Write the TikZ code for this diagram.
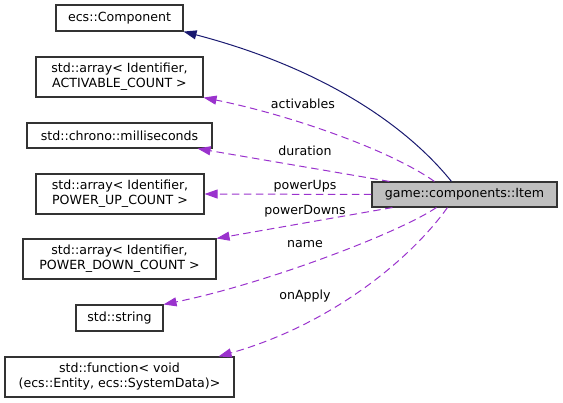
\documentclass[tikz,border=0pt]{standalone}
\usepackage{fontspec}
\setmainfont{DejaVu Sans}
\usetikzlibrary{arrows.meta}
\definecolor{edgepurple}{HTML}{9A32CD}
\definecolor{edgeblue}{HTML}{191970}
\definecolor{itemfill}{HTML}{BFBFBF}
\begin{document}
\begin{tikzpicture}[x=1pt,y=-1pt,
  txt/.style={font=\fontsize{12.6}{15}\selectfont},
  cls/.style={txt, draw=black!80, line width=1.1pt, fill=white, inner sep=0pt, align=center},
  dep/.style={draw=edgepurple, dash pattern=on 7.5pt off 4.5pt, line width=1pt, -{Triangle[length=13pt,width=9pt]}},
  inh/.style={draw=edgeblue, line width=1pt, -{Triangle[length=13pt,width=9pt]}},
  lbl/.style={txt, inner sep=0pt}]
\useasboundingbox (0,0) rectangle (563,403);
\node[cls, minimum width=127pt, minimum height=26pt] (comp) at (119.5,18) {ecs::Component};
\node[cls, minimum width=167pt, minimum height=40pt] (act) at (119.5,77) {std::array< Identifier,\\ ACTIVABLE\_COUNT >};
\node[cls, minimum width=185pt, minimum height=25pt] (ms) at (119.5,135.5) {std::chrono::milliseconds};
\node[cls, minimum width=168pt, minimum height=40pt] (pup) at (120,194) {std::array< Identifier,\\ POWER\_UP\_COUNT >};
\node[cls, minimum width=193pt, minimum height=40pt] (pdown) at (119.5,259) {std::array< Identifier,\\ POWER\_DOWN\_COUNT >};
\node[cls, minimum width=87pt, minimum height=26pt] (str) at (119.5,318) {std::string};
\node[cls, minimum width=229pt, minimum height=40pt] (fn) at (119.5,377) {std::function< void\\(ecs::Entity, ecs::SystemData)>};
\node[cls, fill=itemfill, minimum width=185pt, minimum height=25pt] (item) at (464.5,194.5) {game::components::Item};

\draw[inh] ([xshift=80pt]item.north west) .. controls (410,130) and (330,70) .. (comp.south east);
\draw[dep] ([xshift=63pt]item.north west) .. controls (390,150) and (290,115) .. (act.south east);
\draw[dep] ([xshift=18pt]item.north west) -- ([xshift=-15pt]ms.south east);
\draw[dep] (item.west) -- (pup.east);
\draw[dep] ([xshift=21pt]item.south west) -- (pdown.north east);
\draw[dep] ([xshift=65pt]item.south west) .. controls (395,235) and (260,285) .. (str.north east);
\draw[dep] ([xshift=76pt]item.south west) .. controls (410,260) and (330,325) .. ([xshift=-16pt]fn.north east);

\node[lbl] (l1) at (303,104) {activables};
\node[lbl] (l2) at (305,151) {duration};
\node[lbl] (l3) at (305,186) {powerUps};
\node[lbl] (l4) at (305,211) {powerDowns};
\node[lbl] (l5) at (305,244) {name};
\node[lbl] (l6) at (305,296) {onApply};
\end{tikzpicture}
\end{document}
